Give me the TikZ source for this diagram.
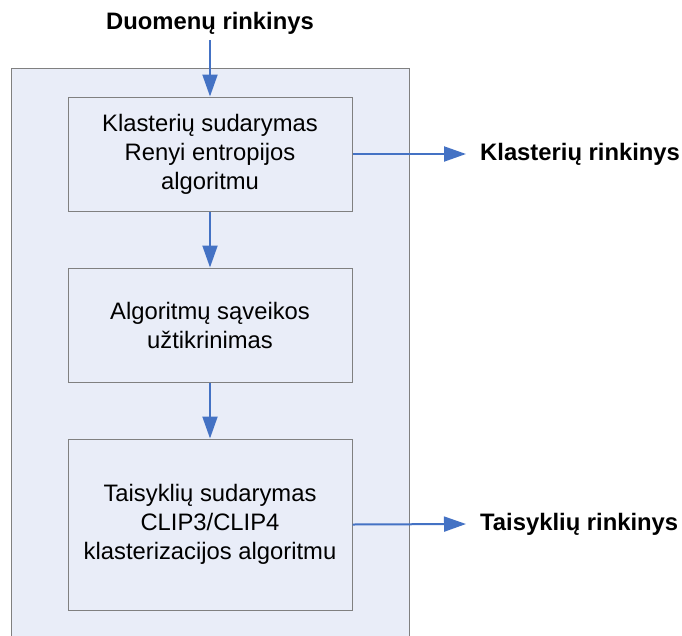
\documentclass[tikz,border=0pt]{standalone}
\usepackage{fontspec}
\setmainfont{Liberation Sans}
\usetikzlibrary{arrows.meta}
\definecolor{panelfill}{HTML}{E9EDF8}
\definecolor{edgegray}{HTML}{808080}
\definecolor{arrowblue}{HTML}{4472C4}
\begin{document}
\begin{tikzpicture}[x=1pt,y=-1pt,
  stepbox/.style={draw=edgegray,line width=1pt,fill=panelfill,minimum width=284pt,align=center,inner sep=0pt,font=\fontsize{23.8}{29}\selectfont},
  lbl/.style={font=\fontsize{23.8}{28}\selectfont\bfseries,inner sep=0pt},
  flow/.style={draw=arrowblue,line width=2pt,-{Triangle[length=22pt,width=15pt]}}]
\useasboundingbox (0,0) rectangle (682,635);
\begin{scope}
\clip (0,0) rectangle (682,635);
\draw[draw=edgegray,line width=1pt,fill=panelfill] (11.5,68.5) rectangle (409,660);
\end{scope}
\node[stepbox,minimum height=114pt] (b1) at (210,154) {Klasterių sudarymas\\Renyi entropijos\\algoritmu};
\node[stepbox,minimum height=114pt] (b2) at (210,325) {Algoritmų sąveikos\\užtikrinimas};
\node[stepbox,minimum height=171pt] (b3) at (210,524.5) {Taisyklių sudarymas\\CLIP3/CLIP4\\klasterizacijos algoritmu};
\node[lbl] (in) at (210,23) {Duomenų rinkinys};
\coordinate (inb) at (210,40);
\node[lbl,anchor=west] (o1) at (480,154) {Klasterių rinkinys};
\node[lbl,anchor=west] (o2) at (480,524) {Taisyklių rinkinys};
\coordinate (o1t) at (466,154);
\coordinate (o2t) at (466,524);
\draw[flow] (inb) -- (b1.north);
\draw[flow] (b1.south) -- (b2.north);
\draw[flow] (b2.south) -- (b3.north);
\draw[flow] (b1.east) -- (o1t);
\draw[flow] (b3.east) -- (o2t);
\end{tikzpicture}
\end{document}
